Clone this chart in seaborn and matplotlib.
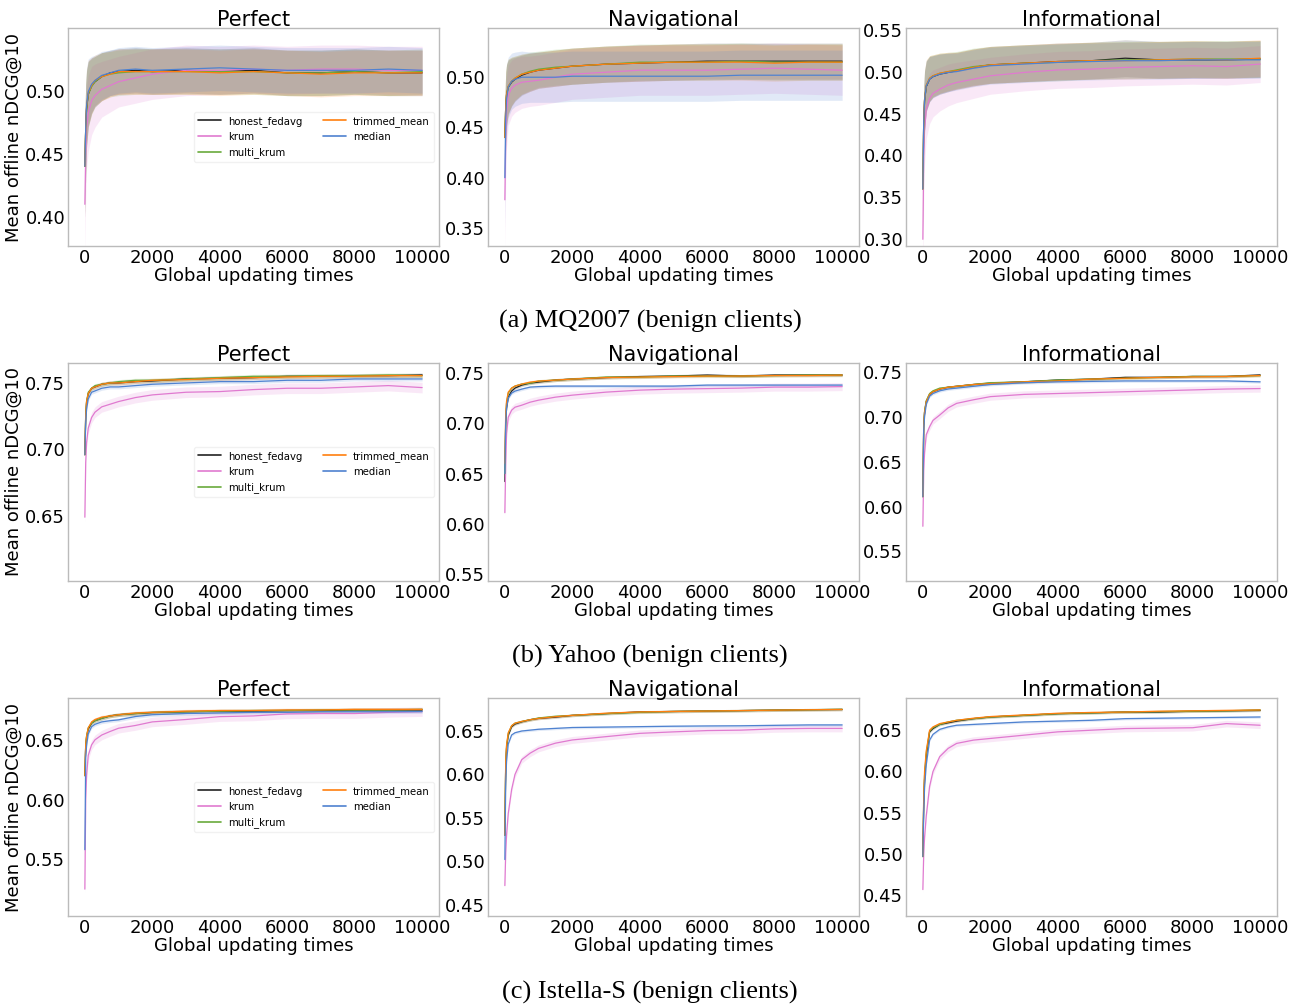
import numpy as np
import pandas as pd
import matplotlib
matplotlib.use("Agg")
import matplotlib.pyplot as plt
from matplotlib.ticker import MultipleLocator
import seaborn as sns

sns.set_style("white")
plt.rcParams['font.family'] = ['DejaVu Sans']
plt.rcParams.update({'text.color': 'black', 'axes.labelcolor': 'black',
                     'xtick.color': 'black', 'ytick.color': 'black'})

steps = [0, 25, 50, 100, 200, 300, 500, 750, 1000, 1500, 2000, 3000, 4000, 5000, 6000, 7000, 8000, 9000, 10000]

methods = ['honest_fedavg', 'krum', 'multi_krum', 'trimmed_mean', 'median']
colors = ['#222222', '#e07ad0', '#6aaa3c', '#ff7f0e', '#4f82d0']
click_models = ['Perfect', 'Navigational', 'Informational']
captions = ['(a) MQ2007 (benign clients)', '(b) Yahoo (benign clients)', '(c) Istella-S (benign clients)']

# ---- MQ2007 ----
mq_perf_honest = [0.44, 0.47, 0.485, 0.497, 0.504, 0.507, 0.511, 0.514, 0.515, 0.516, 0.515, 0.516, 0.515, 0.516, 0.514, 0.514, 0.515, 0.514, 0.514]
mq_perf_krum = [0.41, 0.45, 0.47, 0.482, 0.492, 0.496, 0.501, 0.504, 0.507, 0.510, 0.513, 0.516, 0.516, 0.517, 0.516, 0.517, 0.517, 0.516, 0.516]
mq_perf_multi = [0.44, 0.47, 0.486, 0.497, 0.503, 0.507, 0.511, 0.513, 0.514, 0.515, 0.515, 0.515, 0.515, 0.515, 0.514, 0.514, 0.515, 0.514, 0.515]
mq_perf_trim = [0.44, 0.47, 0.487, 0.498, 0.504, 0.508, 0.511, 0.513, 0.515, 0.515, 0.515, 0.515, 0.514, 0.515, 0.514, 0.513, 0.514, 0.514, 0.514]
mq_perf_median = [0.44, 0.47, 0.488, 0.499, 0.505, 0.508, 0.512, 0.514, 0.516, 0.517, 0.516, 0.517, 0.518, 0.517, 0.516, 0.516, 0.516, 0.517, 0.516]

mq_nav_honest = [0.44, 0.47, 0.482, 0.490, 0.495, 0.498, 0.502, 0.505, 0.507, 0.509, 0.511, 0.513, 0.514, 0.515, 0.516, 0.516, 0.516, 0.516, 0.516]
mq_nav_krum = [0.378, 0.44, 0.465, 0.482, 0.489, 0.492, 0.495, 0.496, 0.497, 0.500, 0.503, 0.505, 0.507, 0.507, 0.507, 0.508, 0.509, 0.508, 0.507]
mq_nav_multi = [0.44, 0.47, 0.483, 0.491, 0.496, 0.499, 0.503, 0.506, 0.508, 0.510, 0.511, 0.513, 0.515, 0.515, 0.515, 0.516, 0.515, 0.515, 0.515]
mq_nav_trim = [0.44, 0.47, 0.483, 0.491, 0.496, 0.499, 0.503, 0.505, 0.507, 0.509, 0.511, 0.513, 0.514, 0.515, 0.515, 0.515, 0.514, 0.515, 0.515]
mq_nav_median = [0.40, 0.46, 0.478, 0.490, 0.496, 0.498, 0.500, 0.500, 0.500, 0.500, 0.501, 0.501, 0.501, 0.501, 0.501, 0.502, 0.502, 0.502, 0.502]

mq_inf_honest = [0.36, 0.44, 0.465, 0.482, 0.491, 0.494, 0.497, 0.499, 0.501, 0.505, 0.508, 0.510, 0.512, 0.513, 0.516, 0.514, 0.514, 0.514, 0.515]
mq_inf_krum = [0.30, 0.40, 0.43, 0.455, 0.468, 0.474, 0.479, 0.484, 0.487, 0.491, 0.495, 0.499, 0.502, 0.503, 0.505, 0.506, 0.507, 0.506, 0.509]
mq_inf_multi = [0.36, 0.44, 0.466, 0.483, 0.492, 0.495, 0.498, 0.500, 0.502, 0.506, 0.508, 0.510, 0.511, 0.513, 0.514, 0.514, 0.515, 0.515, 0.515]
mq_inf_trim = [0.36, 0.44, 0.467, 0.484, 0.492, 0.495, 0.498, 0.500, 0.501, 0.505, 0.508, 0.510, 0.512, 0.513, 0.513, 0.514, 0.515, 0.514, 0.516]
mq_inf_median = [0.36, 0.44, 0.466, 0.483, 0.491, 0.494, 0.497, 0.499, 0.500, 0.504, 0.507, 0.509, 0.511, 0.512, 0.513, 0.513, 0.514, 0.514, 0.514]

# std bands (MQ2007 has wide bands, the other datasets almost none)
mq_perf_sd = [0.04, 0.035, 0.03, 0.026, 0.022, 0.02, 0.019, 0.018, 0.018, 0.018, 0.018, 0.018, 0.018, 0.018, 0.018, 0.018, 0.018, 0.018, 0.018]
mq_perf_krum_sd = [0.04, 0.035, 0.032, 0.03, 0.027, 0.025, 0.022, 0.021, 0.02, 0.02, 0.02, 0.02, 0.019, 0.019, 0.019, 0.019, 0.019, 0.019, 0.019]
mq_nav_sd = [0.04, 0.035, 0.03, 0.027, 0.024, 0.022, 0.02, 0.019, 0.018, 0.018, 0.018, 0.018, 0.018, 0.018, 0.018, 0.018, 0.018, 0.018, 0.018]
mq_nav_wide_sd = [0.05, 0.04, 0.035, 0.03, 0.028, 0.027, 0.026, 0.025, 0.025, 0.025, 0.025, 0.025, 0.025, 0.025, 0.025, 0.025, 0.025, 0.025, 0.025]
mq_inf_sd = [0.05, 0.04, 0.035, 0.03, 0.027, 0.025, 0.024, 0.023, 0.022, 0.022, 0.022, 0.022, 0.022, 0.022, 0.022, 0.022, 0.022, 0.022, 0.022]
mq_inf_krum_sd = [0.06, 0.05, 0.04, 0.035, 0.03, 0.028, 0.026, 0.025, 0.024, 0.023, 0.022, 0.022, 0.022, 0.022, 0.022, 0.022, 0.022, 0.022, 0.022]

# ---- Yahoo ----
ya_perf_honest = [0.696, 0.725, 0.735, 0.742, 0.746, 0.747, 0.749, 0.750, 0.750, 0.751, 0.7515, 0.753, 0.7535, 0.754, 0.755, 0.755, 0.7555, 0.7555, 0.756]
ya_perf_krum = [0.649, 0.69, 0.705, 0.716, 0.724, 0.728, 0.732, 0.734, 0.736, 0.739, 0.741, 0.743, 0.7435, 0.745, 0.746, 0.746, 0.747, 0.748, 0.7465]
ya_perf_multi = [0.696, 0.726, 0.736, 0.743, 0.746, 0.748, 0.749, 0.750, 0.751, 0.752, 0.752, 0.753, 0.754, 0.755, 0.755, 0.7555, 0.7555, 0.756, 0.7555]
ya_perf_trim = [0.696, 0.726, 0.736, 0.742, 0.746, 0.747, 0.749, 0.750, 0.750, 0.751, 0.752, 0.7525, 0.7535, 0.754, 0.7545, 0.755, 0.755, 0.7555, 0.7555]
ya_perf_median = [0.696, 0.72, 0.73, 0.738, 0.743, 0.744, 0.746, 0.747, 0.747, 0.748, 0.749, 0.750, 0.751, 0.751, 0.752, 0.752, 0.753, 0.753, 0.753]

ya_nav_honest = [0.642, 0.70, 0.715, 0.726, 0.732, 0.735, 0.738, 0.740, 0.741, 0.743, 0.744, 0.7455, 0.7465, 0.747, 0.748, 0.747, 0.748, 0.748, 0.748]
ya_nav_krum = [0.611, 0.66, 0.69, 0.706, 0.713, 0.716, 0.718, 0.721, 0.723, 0.726, 0.728, 0.731, 0.733, 0.734, 0.7345, 0.735, 0.736, 0.736, 0.7365]
ya_nav_multi = [0.65, 0.705, 0.72, 0.73, 0.735, 0.737, 0.739, 0.740, 0.742, 0.743, 0.744, 0.746, 0.746, 0.747, 0.747, 0.747, 0.7475, 0.748, 0.748]
ya_nav_trim = [0.66, 0.71, 0.722, 0.731, 0.735, 0.737, 0.739, 0.741, 0.742, 0.743, 0.744, 0.7455, 0.746, 0.7465, 0.747, 0.747, 0.7475, 0.7475, 0.748]
ya_nav_median = [0.65, 0.70, 0.715, 0.725, 0.730, 0.732, 0.734, 0.736, 0.7365, 0.737, 0.737, 0.737, 0.737, 0.737, 0.738, 0.738, 0.738, 0.738, 0.738]

ya_inf_honest = [0.611, 0.69, 0.705, 0.717, 0.725, 0.728, 0.731, 0.733, 0.734, 0.736, 0.7375, 0.739, 0.741, 0.742, 0.744, 0.744, 0.745, 0.745, 0.7467]
ya_inf_krum = [0.578, 0.64, 0.66, 0.68, 0.689, 0.696, 0.702, 0.710, 0.715, 0.719, 0.7225, 0.725, 0.726, 0.727, 0.728, 0.729, 0.730, 0.731, 0.7315]
ya_inf_multi = [0.611, 0.69, 0.706, 0.718, 0.726, 0.729, 0.732, 0.733, 0.734, 0.736, 0.738, 0.739, 0.741, 0.742, 0.743, 0.744, 0.745, 0.745, 0.746]
ya_inf_trim = [0.611, 0.69, 0.705, 0.717, 0.725, 0.728, 0.731, 0.733, 0.734, 0.736, 0.737, 0.739, 0.740, 0.742, 0.743, 0.744, 0.7445, 0.745, 0.746]
ya_inf_median = [0.611, 0.685, 0.70, 0.714, 0.723, 0.726, 0.729, 0.731, 0.732, 0.734, 0.736, 0.738, 0.739, 0.7395, 0.740, 0.740, 0.740, 0.740, 0.739]

# ---- Istella-S ----
is_perf_honest = [0.62, 0.645, 0.652, 0.659, 0.664, 0.666, 0.668, 0.670, 0.671, 0.672, 0.6728, 0.6735, 0.674, 0.674, 0.6745, 0.6745, 0.675, 0.675, 0.675]
is_perf_krum = [0.525, 0.60, 0.62, 0.637, 0.6458, 0.650, 0.654, 0.657, 0.6597, 0.662, 0.665, 0.667, 0.6694, 0.670, 0.6717, 0.672, 0.672, 0.673, 0.6736]
is_perf_multi = [0.62, 0.646, 0.653, 0.660, 0.664, 0.666, 0.668, 0.670, 0.671, 0.672, 0.673, 0.6735, 0.674, 0.6745, 0.6745, 0.675, 0.675, 0.675, 0.6755]
is_perf_trim = [0.62, 0.646, 0.653, 0.660, 0.665, 0.667, 0.669, 0.670, 0.671, 0.6725, 0.673, 0.674, 0.6745, 0.6745, 0.675, 0.675, 0.6755, 0.6755, 0.6755]
is_perf_median = [0.558, 0.635, 0.645, 0.655, 0.661, 0.663, 0.665, 0.666, 0.6667, 0.6695, 0.671, 0.672, 0.6725, 0.673, 0.673, 0.6735, 0.6735, 0.6735, 0.6736]

is_nav_honest = [0.53, 0.61, 0.63, 0.645, 0.655, 0.658, 0.6606, 0.663, 0.6645, 0.666, 0.668, 0.670, 0.672, 0.6725, 0.673, 0.6735, 0.674, 0.6745, 0.6748]
is_nav_krum = [0.472, 0.51, 0.53, 0.555, 0.5826, 0.60, 0.617, 0.6245, 0.630, 0.636, 0.6397, 0.6435, 0.6473, 0.649, 0.6505, 0.651, 0.6525, 0.653, 0.653]
is_nav_multi = [0.53, 0.612, 0.632, 0.647, 0.656, 0.659, 0.661, 0.663, 0.665, 0.667, 0.668, 0.670, 0.6715, 0.6725, 0.673, 0.6735, 0.674, 0.6745, 0.675]
is_nav_trim = [0.53, 0.615, 0.634, 0.648, 0.656, 0.659, 0.661, 0.663, 0.6645, 0.6665, 0.668, 0.6705, 0.672, 0.6725, 0.673, 0.6735, 0.674, 0.6745, 0.6748]
is_nav_median = [0.502, 0.59, 0.615, 0.635, 0.6454, 0.648, 0.650, 0.651, 0.652, 0.653, 0.654, 0.6545, 0.655, 0.6555, 0.6558, 0.656, 0.6565, 0.657, 0.657]

is_inf_honest = [0.497, 0.56, 0.59, 0.618, 0.648, 0.652, 0.657, 0.659, 0.661, 0.664, 0.666, 0.668, 0.670, 0.671, 0.672, 0.672, 0.673, 0.6735, 0.674]
is_inf_krum = [0.457, 0.50, 0.52, 0.546, 0.582, 0.60, 0.618, 0.628, 0.634, 0.638, 0.640, 0.644, 0.648, 0.650, 0.652, 0.6525, 0.653, 0.658, 0.656]
is_inf_multi = [0.497, 0.565, 0.595, 0.622, 0.649, 0.653, 0.657, 0.660, 0.662, 0.664, 0.666, 0.668, 0.670, 0.671, 0.672, 0.6725, 0.673, 0.6735, 0.6745]
is_inf_trim = [0.497, 0.57, 0.60, 0.625, 0.650, 0.654, 0.658, 0.660, 0.662, 0.6645, 0.6665, 0.6685, 0.6705, 0.6715, 0.672, 0.673, 0.6735, 0.674, 0.6745]
is_inf_median = [0.497, 0.55, 0.58, 0.608, 0.638, 0.645, 0.651, 0.654, 0.656, 0.657, 0.658, 0.660, 0.661, 0.662, 0.664, 0.6645, 0.665, 0.6655, 0.666]

small_sd = 0.0015
krum_sd = 0.004

panels = [
    [  # MQ2007
        ([mq_perf_honest, mq_perf_krum, mq_perf_multi, mq_perf_trim, mq_perf_median],
         [mq_perf_sd, mq_perf_krum_sd, mq_perf_sd, mq_perf_sd, mq_perf_sd], (0.377, 0.5495)),
        ([mq_nav_honest, mq_nav_krum, mq_nav_multi, mq_nav_trim, mq_nav_median],
         [mq_nav_sd, mq_nav_wide_sd, mq_nav_sd, mq_nav_sd, mq_nav_wide_sd], (0.332, 0.549)),
        ([mq_inf_honest, mq_inf_krum, mq_inf_multi, mq_inf_trim, mq_inf_median],
         [mq_inf_sd, mq_inf_krum_sd, mq_inf_sd, mq_inf_sd, mq_inf_sd], (0.292, 0.552)),
    ],
    [  # Yahoo
        ([ya_perf_honest, ya_perf_krum, ya_perf_multi, ya_perf_trim, ya_perf_median],
         [small_sd, krum_sd, small_sd, small_sd, small_sd], (0.601, 0.765)),
        ([ya_nav_honest, ya_nav_krum, ya_nav_multi, ya_nav_trim, ya_nav_median],
         [small_sd, krum_sd, small_sd, small_sd, small_sd], (0.543, 0.760)),
        ([ya_inf_honest, ya_inf_krum, ya_inf_multi, ya_inf_trim, ya_inf_median],
         [small_sd, krum_sd, small_sd, small_sd, small_sd], (0.517, 0.760)),
    ],
    [  # Istella-S
        ([is_perf_honest, is_perf_krum, is_perf_multi, is_perf_trim, is_perf_median],
         [small_sd, krum_sd, small_sd, small_sd, small_sd], (0.5025, 0.685)),
        ([is_nav_honest, is_nav_krum, is_nav_multi, is_nav_trim, is_nav_median],
         [small_sd, krum_sd, small_sd, small_sd, small_sd], (0.437, 0.688)),
        ([is_inf_honest, is_inf_krum, is_inf_multi, is_inf_trim, is_inf_median],
         [small_sd, krum_sd, small_sd, small_sd, small_sd], (0.425, 0.689)),
    ],
]

W, H = 1300, 1008
fig = plt.figure(figsize=(13, 10.08), dpi=100)

col_left = [68, 488, 906]
col_width = 371
row_top = [28, 363, 698]
row_height = 218
caption_y = [321, 656, 992]

palette = dict(zip(methods, colors))

for r in range(3):
    for c in range(3):
        vals, sds, ylim = panels[r][c]
        ax = fig.add_axes([col_left[c] / W, 1 - (row_top[r] + row_height) / H,
                           col_width / W, row_height / H])
        df = pd.concat([pd.DataFrame({'step': steps, 'ndcg': v, 'method': m})
                        for m, v in zip(methods, vals)])
        sns.lineplot(data=df, x='step', y='ndcg', hue='method', hue_order=methods,
                     palette=palette, linewidth=0.9, ax=ax, legend=(c == 0))
        for m, v, sd in zip(methods, vals, sds):
            v = np.asarray(v)
            sd = np.broadcast_to(np.asarray(sd), v.shape)
            ax.fill_between(steps, v - sd, v + sd, color=palette[m], alpha=0.17, linewidth=0)
        ax.set_ylim(*ylim)
        ax.set_xticks([0, 2000, 4000, 6000, 8000, 10000])
        ax.yaxis.set_major_locator(MultipleLocator(0.05))
        ax.tick_params(labelsize=13, length=0, pad=2)
        ax.set_title(click_models[c], fontsize=15, pad=1.5)
        ax.set_xlabel('Global updating times', fontsize=13, labelpad=0)
        if c == 0:
            ax.set_ylabel('Mean offline nDCG@10', fontsize=13, labelpad=2)
            leg = ax.legend(loc='center right', ncol=2, fontsize=7.3, frameon=True,
                            handlelength=2.3, columnspacing=2.0, handletextpad=0.7)
            leg.get_frame().set_edgecolor('#eeeeee')
            leg.get_frame().set_alpha(0.8)
            for line in leg.get_lines():
                line.set_linewidth(1.2)
        else:
            ax.set_ylabel('')
        for s in ax.spines.values():
            s.set_color('#bbbbbb')
            s.set_linewidth(1.0)
    fig.text(0.5, 1 - caption_y[r] / H, captions[r], ha='center', va='center',
             fontsize=19, family='Liberation Serif')

fig.savefig('out.png', dpi=100)
